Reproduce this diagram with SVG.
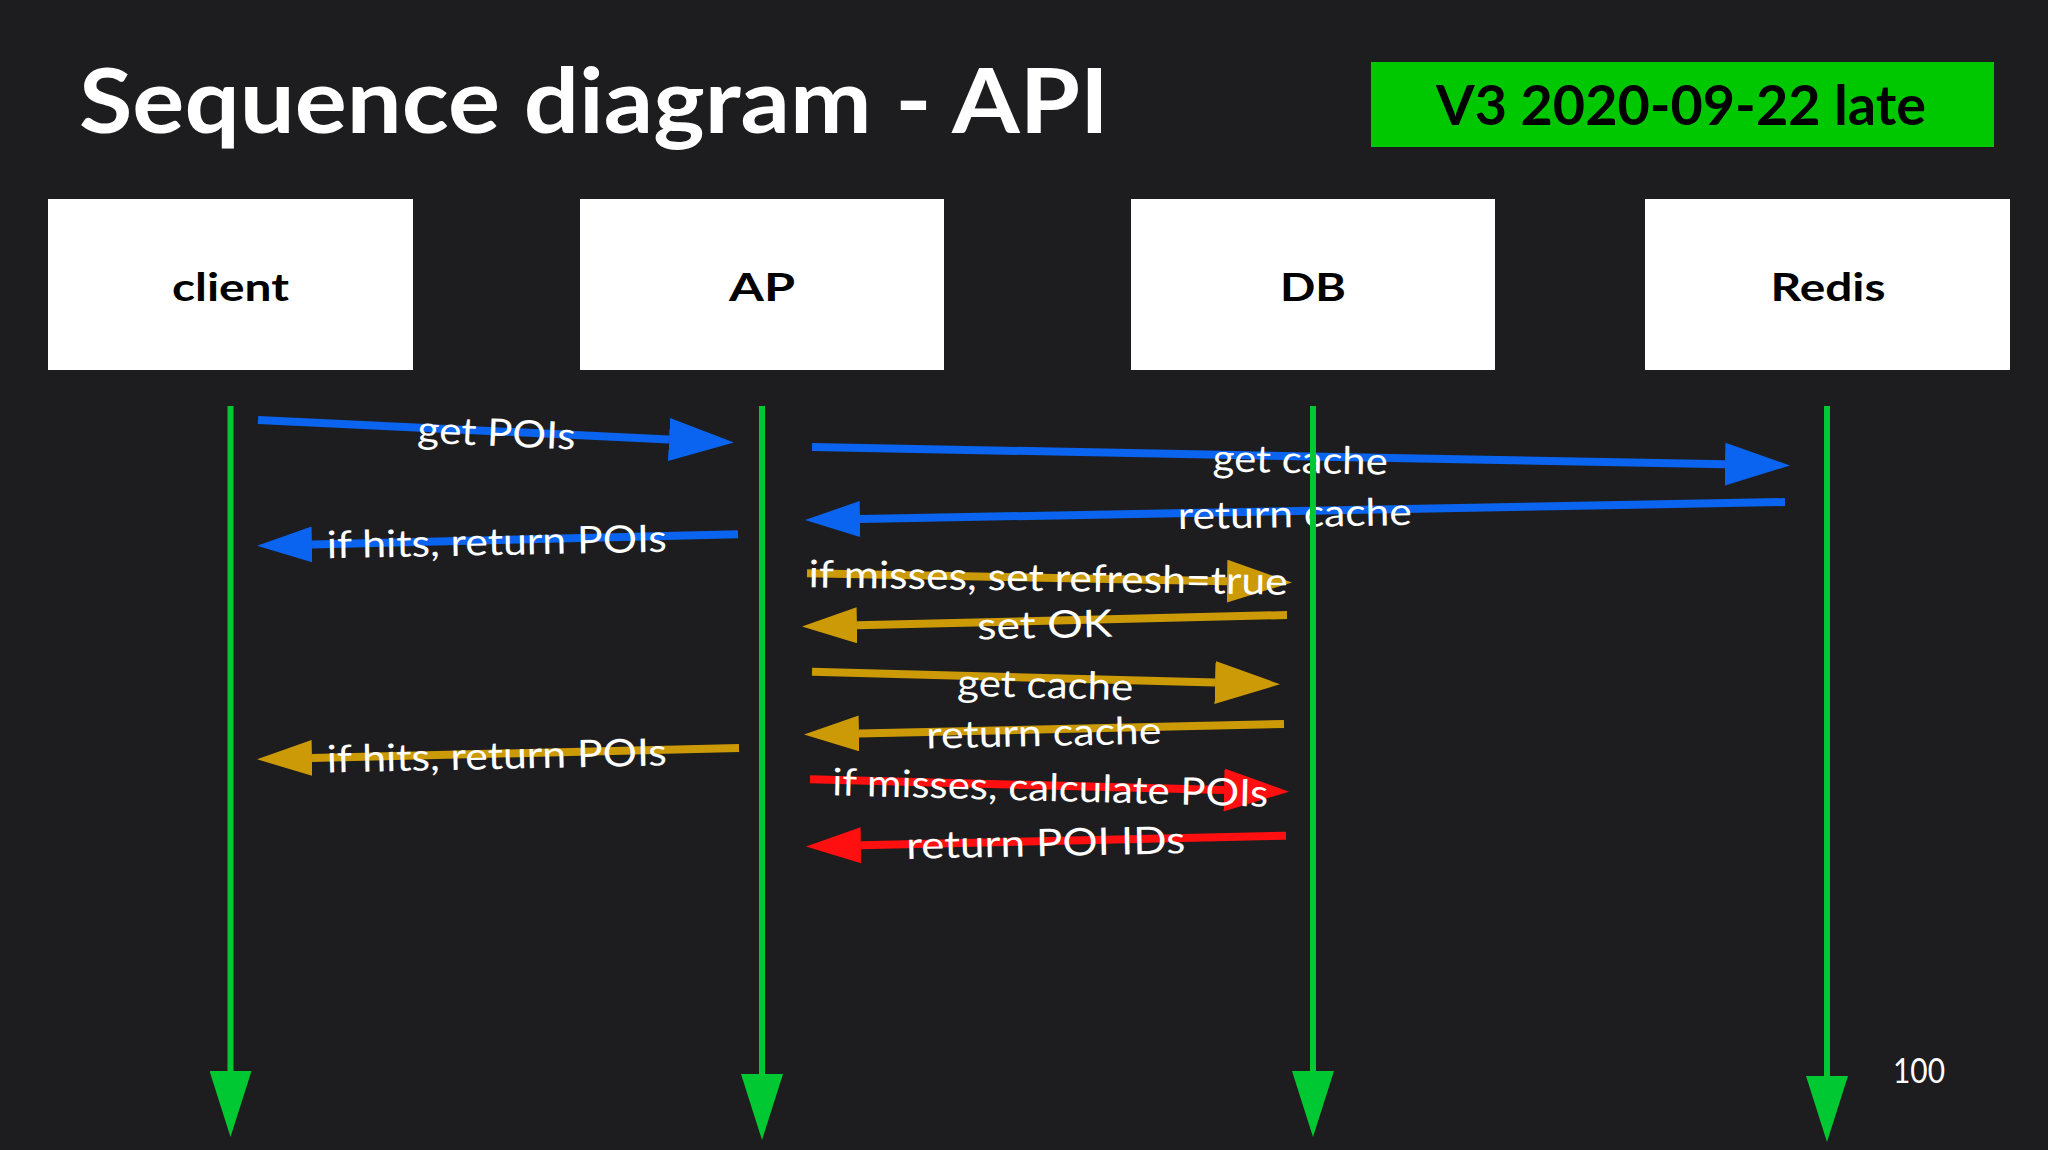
<svg xmlns="http://www.w3.org/2000/svg" width="2048" height="1150" viewBox="0 0 2048 1150">
<style>
.bg{fill:#1d1d1f}
.box{fill:#ffffff}
.node-label{font-family:Lato,"Liberation Sans",sans-serif;font-weight:bold;font-size:39px;fill:#000;text-anchor:middle}
.title{font-family:Lato,"Liberation Sans",sans-serif;font-weight:bold;font-size:90px;fill:#fff}
.badge-text{font-family:Lato,"Liberation Sans",sans-serif;font-weight:bold;font-size:55px;fill:#000}
.msg-label{font-family:Lato,"Liberation Sans",sans-serif;font-size:38px;fill:#fff;text-anchor:middle}
.page{font-family:Lato,"Liberation Sans",sans-serif;font-size:35px;fill:#fff}
.blue{stroke:#0a64f0;stroke-width:8;fill:none}
.gold{stroke:#cc9a06;stroke-width:8;fill:none}
.red{stroke:#ff0f0f;stroke-width:8;fill:none}
.life{stroke:#00c832;stroke-width:6;fill:none}
</style>
<defs>
<marker id="fwd-blue" viewBox="0 0 65 43" markerUnits="userSpaceOnUse" markerWidth="65" markerHeight="43" refX="0" refY="21.5" orient="auto"><path d="M0,0 L65,21.5 L0,43 z" fill="#0a64f0"/></marker>
<marker id="ret-blue" viewBox="0 0 55 36" markerUnits="userSpaceOnUse" markerWidth="55" markerHeight="36" refX="0" refY="18" orient="auto"><path d="M0,0 L55,18 L0,36 z" fill="#0a64f0"/></marker>
<marker id="fwd-gold" viewBox="0 0 65 43" markerUnits="userSpaceOnUse" markerWidth="65" markerHeight="43" refX="0" refY="21.5" orient="auto"><path d="M0,0 L65,21.5 L0,43 z" fill="#cc9a06"/></marker>
<marker id="ret-gold" viewBox="0 0 55 36" markerUnits="userSpaceOnUse" markerWidth="55" markerHeight="36" refX="0" refY="18" orient="auto"><path d="M0,0 L55,18 L0,36 z" fill="#cc9a06"/></marker>
<marker id="fwd-red" viewBox="0 0 65 43" markerUnits="userSpaceOnUse" markerWidth="65" markerHeight="43" refX="0" refY="21.5" orient="auto"><path d="M0,0 L65,21.5 L0,43 z" fill="#ff0f0f"/></marker>
<marker id="ret-red" viewBox="0 0 55 36" markerUnits="userSpaceOnUse" markerWidth="55" markerHeight="36" refX="0" refY="18" orient="auto"><path d="M0,0 L55,18 L0,36 z" fill="#ff0f0f"/></marker>
<marker id="life-head" viewBox="0 0 66 42" markerUnits="userSpaceOnUse" markerWidth="66" markerHeight="42" refX="0" refY="21" orient="auto"><path d="M0,0 L66,21 L0,42 z" fill="#00c832"/></marker>
</defs>
<rect class="bg" x="0" y="0" width="2048" height="1150"/>
<text class="title" x="79" y="133" textLength="1030" lengthAdjust="spacingAndGlyphs">Sequence diagram - API</text>
<g id="badge">
<rect x="1371" y="62" width="623" height="85" fill="#00c800"/>
<text class="badge-text" x="1436" y="125" textLength="490" lengthAdjust="spacingAndGlyphs">V3 2020-09-22 late</text>
</g>
<g id="client">
<rect class="box" x="48" y="199" width="365" height="171"/>
<text class="node-label" x="230.5" y="301" textLength="117" lengthAdjust="spacingAndGlyphs">client</text>
</g>
<g id="AP">
<rect class="box" x="580" y="199" width="364" height="171"/>
<text class="node-label" x="762" y="301" textLength="66" lengthAdjust="spacingAndGlyphs">AP</text>
</g>
<g id="DB">
<rect class="box" x="1131" y="199" width="364" height="171"/>
<text class="node-label" x="1313" y="301" textLength="66" lengthAdjust="spacingAndGlyphs">DB</text>
</g>
<g id="Redis">
<rect class="box" x="1645" y="199" width="365" height="171"/>
<text class="node-label" x="1828" y="301" textLength="115" lengthAdjust="spacingAndGlyphs">Redis</text>
</g>
<g id="connectors">
<g id="m1">
<line class="blue" x1="258" y1="420" x2="669" y2="439.5" marker-end="url(#fwd-blue)"/>
<text class="msg-label" x="496" y="446" transform="rotate(2.6 496 446)" textLength="158" lengthAdjust="spacingAndGlyphs">get POIs</text>
</g>
<g id="m2">
<line class="blue" x1="812" y1="447" x2="1725" y2="464.2" marker-end="url(#fwd-blue)"/>
<text class="msg-label" x="1300" y="473" transform="rotate(1.1 1300 473)" textLength="175" lengthAdjust="spacingAndGlyphs">get cache</text>
</g>
<g id="m3">
<line class="blue" x1="1785" y1="502" x2="860" y2="519" marker-end="url(#ret-blue)"/>
<text class="msg-label" x="1295" y="527" transform="rotate(-1 1295 527)" textLength="234" lengthAdjust="spacingAndGlyphs">return cache</text>
</g>
<g id="m4">
<line class="blue" x1="738" y1="534.3" x2="312" y2="544.5" marker-end="url(#ret-blue)"/>
<text class="msg-label" x="497" y="555" transform="rotate(-1.1 497 555)" textLength="340" lengthAdjust="spacingAndGlyphs">if hits, return POIs</text>
</g>
<g id="m5">
<line class="gold" x1="807" y1="573.3" x2="1227" y2="581.2" marker-end="url(#fwd-gold)"/>
<text class="msg-label" x="1048" y="591" transform="rotate(0.9 1048 591)" textLength="479" lengthAdjust="spacingAndGlyphs">if misses, set refresh=true</text>
</g>
<g id="m6">
<line class="gold" x1="1287" y1="615" x2="857" y2="625.3" marker-end="url(#ret-gold)"/>
<text class="msg-label" x="1045" y="638" transform="rotate(-1.3 1045 638)" textLength="135" lengthAdjust="spacingAndGlyphs">set OK</text>
</g>
<g id="m7">
<line class="gold" x1="812" y1="671.7" x2="1215" y2="682.5" marker-end="url(#fwd-gold)"/>
<text class="msg-label" x="1045" y="698" transform="rotate(1.5 1045 698)" textLength="176" lengthAdjust="spacingAndGlyphs">get cache</text>
</g>
<g id="m8">
<line class="gold" x1="1284" y1="724" x2="859" y2="733.4" marker-end="url(#ret-gold)"/>
<text class="msg-label" x="1044" y="746" transform="rotate(-1.2 1044 746)" textLength="235" lengthAdjust="spacingAndGlyphs">return cache</text>
</g>
<g id="m9">
<line class="gold" x1="739" y1="748" x2="312" y2="758" marker-end="url(#ret-gold)"/>
<text class="msg-label" x="497" y="769" transform="rotate(-1.2 497 769)" textLength="340" lengthAdjust="spacingAndGlyphs">if hits, return POIs</text>
</g>
<g id="m10">
<line class="red" x1="810" y1="779.3" x2="1224" y2="790" marker-end="url(#fwd-red)"/>
<text class="msg-label" x="1050" y="801" transform="rotate(1.5 1050 801)" textLength="436" lengthAdjust="spacingAndGlyphs">if misses, calculate POIs</text>
</g>
<g id="m11">
<line class="red" x1="1286" y1="835.7" x2="861" y2="845.3" marker-end="url(#ret-red)"/>
<text class="msg-label" x="1046" y="856" transform="rotate(-1.2 1046 856)" textLength="279" lengthAdjust="spacingAndGlyphs">return POI IDs</text>
</g>
<g id="lifelines">
<line class="life" x1="230.5" y1="406" x2="230.5" y2="1071" marker-end="url(#life-head)"/>
<line class="life" x1="762" y1="406" x2="762" y2="1074" marker-end="url(#life-head)"/>
<line class="life" x1="1313" y1="406" x2="1313" y2="1071" marker-end="url(#life-head)"/>
<line class="life" x1="1827" y1="406" x2="1827" y2="1076" marker-end="url(#life-head)"/>
</g>
</g>
<text class="page" x="1893" y="1083" textLength="52" lengthAdjust="spacingAndGlyphs">100</text>
</svg>
